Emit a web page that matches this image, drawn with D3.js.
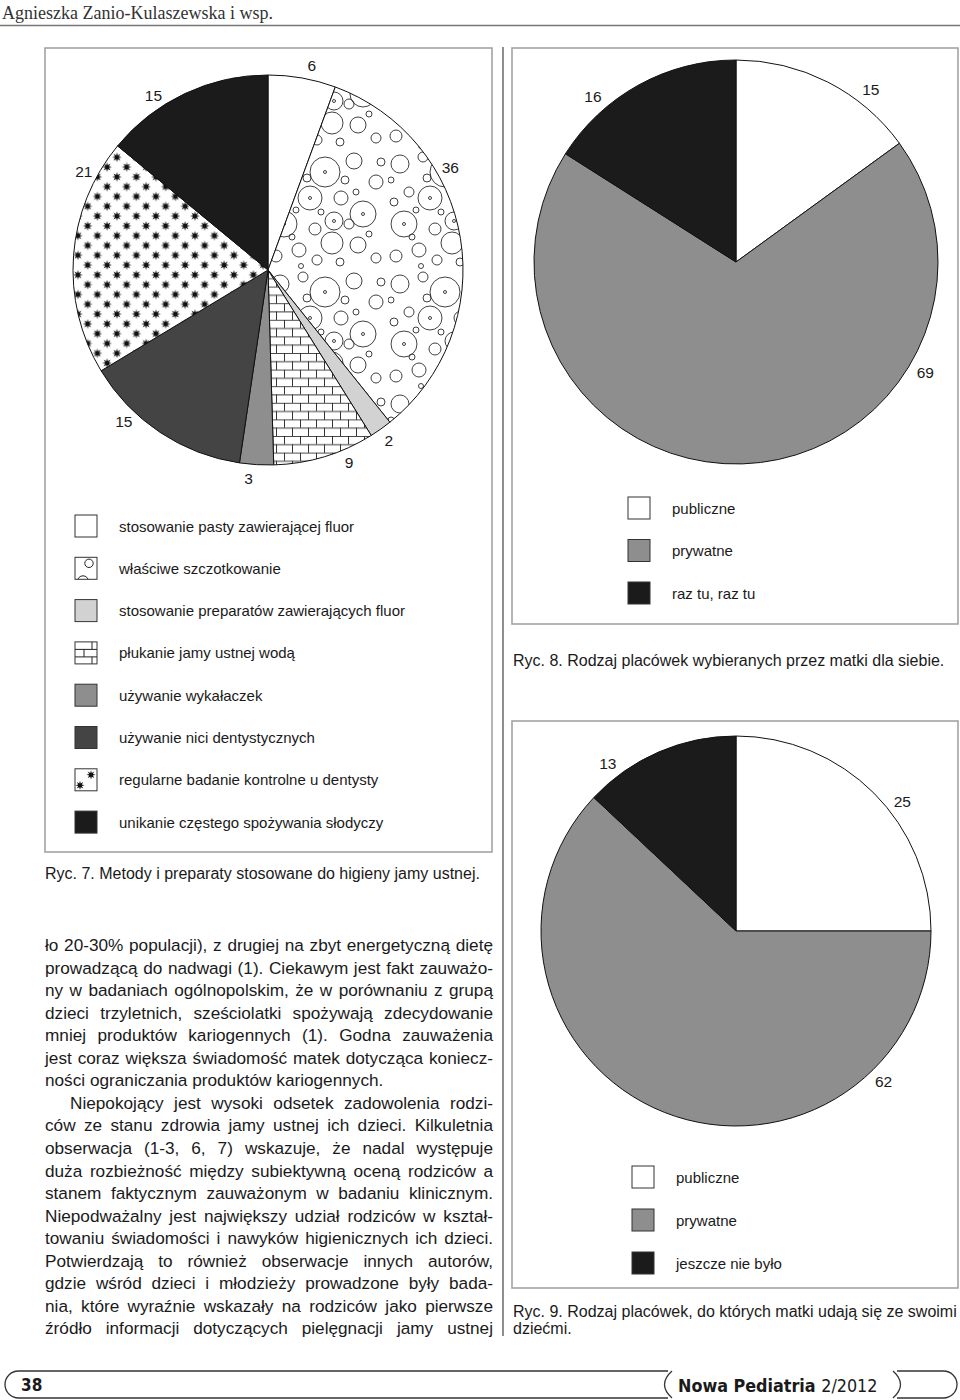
<!DOCTYPE html>
<html lang="pl">
<head>
<meta charset="utf-8">
<script src="https://cdn.jsdelivr.net/npm/d3@7"></script>
<style>
  html, body { margin: 0; padding: 0; background: #fff; }
  svg { display: block; }
  text { font-family: "Liberation Sans", Arial, Helvetica, sans-serif; fill: #1a1a1a; }
</style>
</head>
<body>
<svg id="page" width="960" height="1400"></svg>
<script>
// ---------------- DATA ----------------
const headerText = "Agnieszka Zanio-Kulaszewska i wsp.";

const methodLabels = [
  "stosowanie pasty zawierającej fluor",
  "właściwe szczotkowanie",
  "stosowanie preparatów zawierających fluor",
  "płukanie jamy ustnej wodą",
  "używanie wykałaczek",
  "używanie nici dentystycznych",
  "regularne badanie kontrolne u dentysty",
  "unikanie częstego spożywania słodyczy"
];
const methodValues = [6, 36, 2, 9, 3, 15, 21, 15];
const methodCaption = "Ryc. 7. Metody i preparaty stosowane do higieny jamy ustnej.";

const selfLabels = ["publiczne", "prywatne", "raz tu, raz tu"];
const selfValues = [15, 69, 16];
const selfCaption = "Ryc. 8. Rodzaj placówek wybieranych przez matki dla siebie.";

const childLabels = ["publiczne", "prywatne", "jeszcze nie było"];
const childValues = [25, 62, 13];
const childCaption = ["Ryc. 9. Rodzaj placówek, do których matki udają się ze swoimi", "dziećmi."];

const bodyLines = [
  "ło 20-30% populacji), z drugiej na zbyt energetyczną dietę",
  "prowadzącą do nadwagi (1). Ciekawym jest fakt zauważo-",
  "ny w badaniach ogólnopolskim, że w porównaniu z grupą",
  "dzieci trzyletnich, sześciolatki spożywają zdecydowanie",
  "mniej produktów kariogennych (1). Godna zauważenia",
  "jest coraz większa świadomość matek dotycząca koniecz-",
  "ności ograniczania produktów kariogennych.",
  "Niepokojący jest wysoki odsetek zadowolenia rodzi-",
  "ców ze stanu zdrowia jamy ustnej ich dzieci. Kilkuletnia",
  "obserwacja (1-3, 6, 7) wskazuje, że nadal występuje",
  "duża rozbieżność między subiektywną oceną rodziców a",
  "stanem faktycznym zauważonym w badaniu klinicznym.",
  "Niepodważalny jest największy udział rodziców w kształ-",
  "towaniu świadomości i nawyków higienicznych ich dzieci.",
  "Potwierdzają to również obserwacje innych autorów,",
  "gdzie wśród dzieci i młodzieży prowadzone były bada-",
  "nia, które wyraźnie wskazały na rodziców jako pierwsze",
  "źródło informacji dotyczących pielęgnacji jamy ustnej"
];
const footerPage = "38";
const footerJournal = "Nowa Pediatria";
const footerIssue = "2/2012";

// ---------------- LAYOUT / STYLE ----------------
const methodFills = ["#ffffff", "url(#pat-circles)", "#d2d2d2", "url(#pat-bricks)", "#8e8e8e", "#444444", "url(#pat-stars)", "#1b1b1b"];
const placeFills = ["#ffffff", "#8e8e8e", "#1b1b1b"];
// label angle nudges (degrees) relative to slice centre, as placed in the original
const methodNudge = [2, -20, 0, -6, 2, 10, 24, -8];
const selfNudge = [11, -58, -12];
const childNudge = [7, -66, -14];

const svg = d3.select("#page");
const defs = svg.append("defs");

// circles pattern (decorative tile)
const circleTile = [
  [12,14,9],[35,7,5],[57,22,15],[86,11,8],[108,32,7],[21,42,5],[42,48,12],[73,48,7],
  [95,64,13],[16,74,13],[47,79,6],[64,93,11],[90,95,8],[31,100,7],[108,108,5],[8,106,6],
  [77,30,4],[28,60,3],[53,62,3],[101,84,3],[66,71,9],[39,28,4],[6,52,4],[81,74,5],
  [57,22,1.5],[42,48,1.5],[16,74,1.5],[66,71,1.5],[95,64,1.5],[24,87,3],[49,110,5],
  [113,12,4],[72,112,4],[3,30,3],[33,116,2.5],[88,42,3]
];
const tileS = 120;
const pc = defs.append("pattern").attr("id", "pat-circles").attr("patternUnits", "userSpaceOnUse")
  .attr("width", tileS).attr("height", tileS);
pc.append("rect").attr("width", tileS).attr("height", tileS).attr("fill", "#fff");
pc.selectAll("circle").data(circleTile).join("circle")
  .attr("cx", d => d[0]).attr("cy", d => d[1]).attr("r", d => d[2])
  .attr("fill", "none").attr("stroke", "#2a2a2a").attr("stroke-width", 0.9);

// bricks pattern
const bw = 16, bh = 8.3;
const pb = defs.append("pattern").attr("id", "pat-bricks").attr("patternUnits", "userSpaceOnUse")
  .attr("width", bw).attr("height", bh * 2);
pb.append("rect").attr("width", bw).attr("height", bh * 2).attr("fill", "#fff");
pb.append("path")
  .attr("d", `M0,0.4H${bw}M0,${bh + 0.4}H${bw}M0.5,0V${bh}M${bw / 2 + 0.5},${bh}V${bh * 2}`)
  .attr("stroke", "#222").attr("stroke-width", 0.9).attr("fill", "none");

// star shape
function starPath(cx, cy, ro, ri, n) {
  const p = d3.path();
  for (let i = 0; i < n * 2; i++) {
    const a = Math.PI * i / n - Math.PI / 2;
    const r = i % 2 === 0 ? ro : ri;
    const x = cx + r * Math.cos(a), y = cy + r * Math.sin(a);
    if (i === 0) p.moveTo(x, y); else p.lineTo(x, y);
  }
  p.closePath();
  return p.toString();
}
const sw = 19.5, sh = 19.6;
const ps = defs.append("pattern").attr("id", "pat-stars").attr("patternUnits", "userSpaceOnUse")
  .attr("width", sw).attr("height", sh);
ps.append("rect").attr("width", sw).attr("height", sh).attr("fill", "#fff");
ps.append("path").attr("d", starPath(4.9, 4.9, 4.9, 2.1, 8) + starPath(4.9 + sw / 2, 4.9 + sh / 2, 4.9, 2.1, 8))
  .attr("fill", "#111");

// ---------------- HEADER ----------------
svg.append("text").attr("x", 2).attr("y", 19)
  .style("font-family", "'Liberation Serif', 'Times New Roman', serif")
  .style("font-size", "18px").style("fill", "#333").text(headerText);
svg.append("line").attr("x1", 0).attr("x2", 960).attr("y1", 25.5).attr("y2", 25.5)
  .attr("stroke", "#777").attr("stroke-width", 1.5);

// column rule
svg.append("line").attr("x1", 503).attr("x2", 503).attr("y1", 47).attr("y2", 1336)
  .attr("stroke", "#444").attr("stroke-width", 1.2);

// ---------------- PIE HELPER ----------------
function drawPie(g, values, fills, r, labelR, nudges) {
  const pie = d3.pie().sort(null).value(d => d)(values);
  const arc = d3.arc().innerRadius(0).outerRadius(r);
  g.selectAll("path.slice").data(pie).join("path").attr("class", "slice")
    .attr("d", arc).attr("fill", (d, i) => fills[i])
    .attr("stroke", "#111").attr("stroke-width", 1).attr("stroke-linejoin", "round");
  g.selectAll("text.lbl").data(pie).join("text").attr("class", "lbl")
    .attr("x", (d, i) => labelR * Math.sin((d.startAngle + d.endAngle) / 2 + nudges[i] * Math.PI / 180))
    .attr("y", (d, i) => -labelR * Math.cos((d.startAngle + d.endAngle) / 2 + nudges[i] * Math.PI / 180))
    .attr("text-anchor", "middle").attr("dominant-baseline", "central")
    .style("font-size", "15.5px").text(d => d.data);
}

function drawLegend(g, labels, fills, x, y0, dy, tx, iconFn) {
  labels.forEach((lab, i) => {
    const y = y0 + i * dy;
    if (!(iconFn && iconFn(g, i, x, y - 11))) {
      g.append("rect").attr("x", x).attr("y", y - 11).attr("width", 22).attr("height", 22)
        .attr("fill", fills[i]).attr("stroke", "#333").attr("stroke-width", 1);
    }
    g.append("text").attr("x", tx).attr("y", y + 5.5).style("font-size", "15px").text(lab);
  });
}

function boxFrame(x, y, w, h) {
  svg.append("rect").attr("x", x).attr("y", y).attr("width", w).attr("height", h)
    .attr("fill", "none").attr("stroke", "#a3a3a3").attr("stroke-width", 1.6);
}

// ---------------- FIGURE 7 ----------------
boxFrame(45, 48, 447, 804);
drawPie(svg.append("g").attr("transform", "translate(268,270)"), methodValues, methodFills, 195, 209, methodNudge);

let clipN = 0;
function methodIcon(g, i, x, y) {
  const s = 22;
  if (i === 1 || i === 3 || i === 6) {
    const id = "iconclip" + (clipN++);
    defs.append("clipPath").attr("id", id).append("rect").attr("x", x).attr("y", y).attr("width", s).attr("height", s);
    const ig = g.append("g");
    ig.append("rect").attr("x", x).attr("y", y).attr("width", s).attr("height", s).attr("fill", "#fff");
    const inner = ig.append("g").attr("clip-path", `url(#${id})`);
    if (i === 1) {
      inner.append("circle").attr("cx", x + 14).attr("cy", y + 6).attr("r", 4.2).attr("fill", "none").attr("stroke", "#222");
      inner.append("circle").attr("cx", x + 8).attr("cy", y + 24).attr("r", 5.5).attr("fill", "none").attr("stroke", "#222");
    } else if (i === 3) {
      inner.append("path").attr("d",
        `M${x},${y + 7.5}H${x + s}M${x},${y + 15}H${x + s}M${x + 17},${y}V${y + 7.5}M${x + 9},${y + 7.5}V${y + 15}M${x + 17},${y + 15}V${y + s}`)
        .attr("stroke", "#222").attr("fill", "none");
    } else {
      inner.append("path").attr("d", starPath(x + 16, y + 6, 4.6, 2, 8) + starPath(x + 5, y + 16.5, 4.6, 2, 8)).attr("fill", "#111");
    }
    ig.append("rect").attr("x", x).attr("y", y).attr("width", s).attr("height", s)
      .attr("fill", "none").attr("stroke", "#333").attr("stroke-width", 1);
    return true;
  }
  return false;
}
drawLegend(svg.append("g"), methodLabels, methodFills, 75, 526, 42.3, 119, methodIcon);
svg.append("text").attr("x", 45).attr("y", 879).style("font-size", "16px").text(methodCaption);

// ---------------- FIGURE 8 ----------------
boxFrame(512, 48, 446, 576);
drawPie(svg.append("g").attr("transform", "translate(736,262)"), selfValues, placeFills, 202, 219, selfNudge);
drawLegend(svg.append("g"), selfLabels, placeFills, 628, 508, 42.5, 672, null);
svg.append("text").attr("x", 513).attr("y", 666).style("font-size", "16px").text(selfCaption);

// ---------------- FIGURE 9 ----------------
boxFrame(512, 721, 446, 567);
drawPie(svg.append("g").attr("transform", "translate(736,931)"), childValues, placeFills, 195, 211, childNudge);
drawLegend(svg.append("g"), childLabels, placeFills, 632, 1177, 43, 676, null);
svg.selectAll("text.cap9").data(childCaption).join("text").attr("class", "cap9")
  .attr("x", 513).attr("y", (d, i) => 1317 + i * 17).style("font-size", "16px").text(d => d);

// ---------------- BODY TEXT (justified) ----------------
const colL = 45, colR = 493, base0 = 951, lead = 22.55;
const bodyG = svg.append("g").style("font-size", "17.2px");
bodyLines.forEach((line, i) => {
  const y = base0 + i * lead;
  const indent = i === 7 ? 25 : 0;
  const justify = i !== 6;
  const words = line.split(" ");
  const t = bodyG.append("text").attr("y", y);
  const spans = words.map(w => t.append("tspan").text(w));
  const widths = spans.map(s => s.node().getComputedTextLength());
  const total = widths.reduce((a, b) => a + b, 0);
  const avail = colR - colL - indent;
  const gap = justify && words.length > 1 ? (avail - total) / (words.length - 1) : 4.8;
  let x = colL + indent;
  spans.forEach((s, k) => { s.attr("x", x); x += widths[k] + gap; });
});

// ---------------- FOOTER ----------------
const fy0 = 1371, fy1 = 1398, fr = (fy1 - fy0) / 2;
svg.append("path")
  .attr("d", `M668,${fy0}H${5 + fr}A${fr},${fr} 0 0 0 ${5 + fr},${fy1}H668` +
    `M672,${fy0}Q657,${(fy0 + fy1) / 2} 672,${fy1}` +
    `M893,${fy0}Q908,${(fy0 + fy1) / 2} 893,${fy1}` +
    `M897,${fy0}H${957 - fr}A${fr},${fr} 0 0 1 ${957 - fr},${fy1}H897`)
  .attr("fill", "none").attr("stroke", "#333").attr("stroke-width", 1.3);
const footFont = "'DejaVu Sans Condensed', 'DejaVu Sans', sans-serif";
svg.append("text").attr("x", 21).attr("y", 1391).style("font-family", footFont)
  .style("font-stretch", "condensed").style("font-weight", "bold").style("font-size", "17px").text(footerPage);
const ft = svg.append("text").attr("x", 678).attr("y", 1392).style("font-family", footFont)
  .style("font-stretch", "condensed").style("font-size", "17.8px");
ft.append("tspan").style("font-weight", "bold").text(footerJournal + " ");
ft.append("tspan").text(footerIssue);
</script>
</body>
</html>
